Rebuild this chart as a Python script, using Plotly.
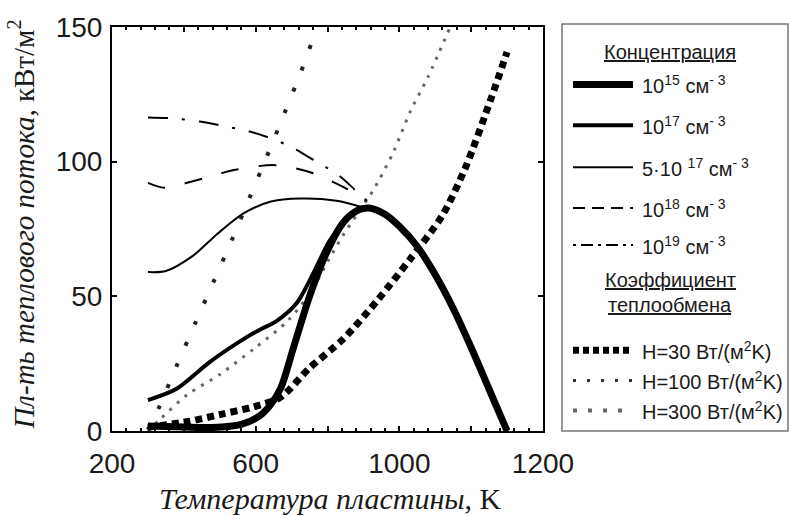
import plotly.graph_objects as go

# Plate temperature, K  /  heat-flux density, kW/m^2
t_1e15 = [300, 400, 480, 560, 610, 640, 670, 705, 750, 800, 845, 885, 915, 960, 1000, 1050, 1100, 1150, 1200, 1250, 1300]
q_1e15 = [1.9, 1.5, 1.3, 2.5, 5.5, 9.5, 16.0, 30.8, 50.0, 67.0, 77.6, 82.0, 82.8, 80.5, 76.0, 68.5, 58.0, 45.5, 31.0, 15.5, 0.0]

t_1e17 = [300, 380, 470, 565, 610, 660, 715, 760, 805, 855, 890, 915, 960, 1000, 1050, 1100, 1150, 1200, 1250, 1300]
q_1e17 = [11.5, 15.7, 25.4, 34.0, 37.5, 41.0, 47.6, 58.4, 70.4, 78.9, 82.0, 82.8, 80.5, 76.0, 68.5, 58.0, 45.5, 31.0, 15.5, 0.0]

t_5e17 = [300, 350, 425, 490, 565, 640, 725, 825, 900]
q_5e17 = [59.0, 59.4, 65.0, 72.8, 80.7, 85.1, 86.3, 85.5, 83.0]

t_1e18 = [300, 345, 425, 540, 655, 760, 865, 905]
q_1e18 = [92.1, 90.3, 92.7, 96.9, 98.7, 95.7, 89.1, 85.5]

t_1e19 = [300, 365, 445, 515, 580, 650, 710, 770, 830, 880, 910]
q_1e19 = [116.4, 116.1, 114.9, 113.1, 111.3, 108.3, 104.7, 99.9, 95.1, 89.1, 85.5]

t_h30 = [300, 415, 500, 595, 670, 750, 845, 940, 1030, 1120, 1185, 1255, 1300]
q_h30 = [1.4, 3.6, 6.1, 9.0, 12.6, 23.4, 34.3, 48.7, 63.8, 80.1, 98.1, 123.3, 140.7]

t_h100 = [300, 335, 410, 500, 595, 690, 755, 805, 845, 885, 930, 985, 1030, 1080, 1140]
q_h100 = [0.0, 4.5, 13.5, 21.0, 30.5, 41.0, 52.0, 64.0, 73.0, 81.0, 90.0, 104.0, 118.5, 131.5, 149.5]

t_h300 = [300, 330, 380, 431, 482, 533, 582, 631, 679, 726, 770]
q_h300 = [0.5, 8.5, 24.2, 39.8, 55.2, 70.7, 86.3, 101.9, 117.6, 133.3, 149.5]

x_labelvals = [200, 600, 1000, 1400]
x_labeltext = ["200", "600", "1000", "1200"]
x_majorvals = [200, 400, 600, 800, 1000, 1200, 1400]
y_tickvals = [0, 50, 100, 150]

# plot-area geometry in pixels
W, H = 789, 516
L, R, T, B = 112, 543, 16, 431


def px(x):
    return (x - L) / (R - L)


def py(y):
    return (B - y) / (B - T)


styles = {
    "1e15": dict(color="black", width=7, dash="solid"),
    "1e17": dict(color="black", width=4, dash="solid"),
    "5e17": dict(color="black", width=2, dash="solid"),
    "1e18": dict(color="black", width=2, dash="18px,20px"),
    "1e19": dict(color="black", width=2, dash="20px,14px,3px,14px"),
    "h30": dict(color="black", width=7, dash="7px,5px"),
    "h100": dict(color="#666666", width=3, dash="3px,7px"),
    "h300": dict(color="#222222", width=4, dash="4px,19px"),
}

series = [
    ("h300", t_h300, q_h300),
    ("h100", t_h100, q_h100),
    ("h30", t_h30, q_h30),
    ("1e19", t_1e19, q_1e19),
    ("1e18", t_1e18, q_1e18),
    ("5e17", t_5e17, q_5e17),
    ("1e17", t_1e17, q_1e17),
    ("1e15", t_1e15, q_1e15),
]

fig = go.Figure()
for key, xs, ys in series:
    fig.add_trace(go.Scatter(
        x=xs, y=ys, mode="lines", line=dict(shape="spline", smoothing=0.8, **styles[key]),
        showlegend=False, hoverinfo="skip",
    ))

sans = "Liberation Sans, Arial, sans-serif"
serif = "Liberation Serif, Times New Roman, serif"

axis_common = dict(
    showline=True, linecolor="black", linewidth=2, mirror="ticks",
    ticks="inside", tickwidth=1.5, tickcolor="black",
    showgrid=False, zeroline=False,
    tickfont=dict(family=sans, size=28, color="#1a1a1a"),
)

fig.update_layout(
    width=W, height=H,
    margin=dict(l=L, r=W - R, t=T, b=H - B),
    paper_bgcolor="white", plot_bgcolor="white",
    xaxis=dict(range=[200, 1400], tickvals=x_labelvals, ticktext=x_labeltext, ticklen=5,
               minor=dict(ticks="inside", dtick=40, ticklen=3, tickcolor="black"),
               ticklabelstandoff=6, **axis_common),
    # second bottom axis carrying the unlabeled major ticks
    xaxis2=dict(range=[200, 1400], overlaying="x", matches="x", side="bottom",
                tickvals=x_majorvals, showticklabels=False, ticklen=5, **axis_common),
    yaxis=dict(range=[0, 150], tickvals=y_tickvals, ticklen=5, ticklabelstandoff=2, **axis_common),
)
# anchor trace so the second axis is drawn
fig.add_trace(go.Scatter(x=[200], y=[0], xaxis="x2", mode="none", showlegend=False, hoverinfo="skip"))

annotations = [
    dict(x=px(330), y=py(500), text="<i>Температура пластины</i>, K",
         xanchor="center", yanchor="middle",
         font=dict(family=serif, size=30, color="#1a1a1a")),
    dict(x=px(21), y=py(219), text="<i>Пл-ть теплового потока</i>, кВт/м<sup>2</sup>",
         textangle=-90, xanchor="center", yanchor="middle",
         font=dict(family=serif, size=29, color="#1a1a1a")),
]

shapes = [dict(type="rect", xref="paper", yref="paper", x0=px(562), x1=px(788),
               y0=py(431), y1=py(13), line=dict(color="#777777", width=1.5))]

lfont = dict(family=sans, size=20, color="#1a1a1a")
for ytxt, txt in [(42, "<u>Концентрация</u>"), (276, "<u>Коэффициент</u>"), (302, "<u>теплообмена</u>")]:
    annotations.append(dict(x=px(670), y=py(ytxt), text=txt, xanchor="center",
                            yanchor="middle", font=lfont))

legend_rows = [
    ("1e15", 75, "10<sup>15</sup> см<sup>- 3</sup>"),
    ("1e17", 117, "10<sup>17</sup> см<sup>- 3</sup>"),
    ("5e17", 160, "5·10 <sup>17</sup> см<sup>- 3</sup>"),
    ("1e18", 202, "10<sup>18</sup> см<sup>- 3</sup>"),
    ("1e19", 240, "10<sup>19</sup> см<sup>- 3</sup>"),
    ("h30", 348, "H=30 Вт/(м<sup>2</sup>K)"),
    ("h100", 379, "H=100 Вт/(м<sup>2</sup>K)"),
    ("h300", 410, "H=300 Вт/(м<sup>2</sup>K)"),
]
legend_dash = {"1e18": "12px,7px", "1e19": "3px,5px,12px,5px", "h100": "3px,11px",
               "h300": "4px,11px", "h30": "6px,4px"}
for key, y, label in legend_rows:
    st = dict(styles[key])
    if key in legend_dash:
        st["dash"] = legend_dash[key]
    if key == "h100":
        st["color"] = "#333333"
    if key == "h300":
        st["color"] = "#666666"
    shapes.append(dict(type="line", xref="paper", yref="paper", x0=px(573), x1=px(633),
                       y0=py(y), y1=py(y), line=st))
    annotations.append(dict(x=px(640), y=py(y), text=label, xanchor="left",
                            yanchor="middle", font=lfont))

for a in annotations:
    a.setdefault("xref", "paper")
    a.setdefault("yref", "paper")
    a.setdefault("showarrow", False)

fig.update_layout(annotations=annotations, shapes=shapes)
fig.write_html("out.html")
